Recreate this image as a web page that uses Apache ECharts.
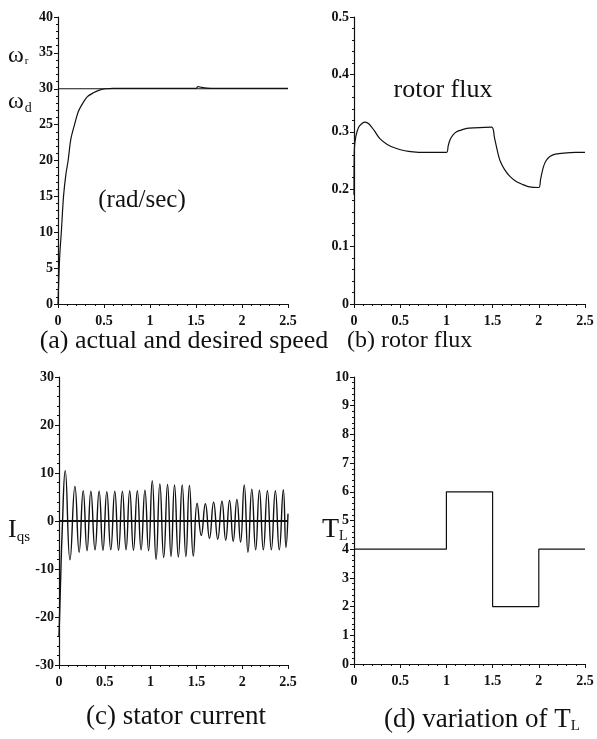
<!DOCTYPE html>
<html>
<head>
<meta charset="utf-8">
<script src="https://cdn.jsdelivr.net/npm/echarts@6/dist/echarts.min.js"></script>
<style>
  html, body { margin: 0; padding: 0; background: #fff; }
  #chart { width: 597px; height: 739px; }
</style>
</head>
<body>
<div id="chart"></div>
<script>
// (a) 实际转速与期望转速
const speedT = [0, 0.01, 0.02, 0.036, 0.06, 0.085, 0.11, 0.14, 0.18, 0.22, 0.27, 0.32, 0.38, 0.45, 0.52, 0.6, 1.0, 1.5, 1.52, 1.56, 1.62, 1.7, 2.5];
const speedW = [0, 4, 7, 10, 15, 18, 20, 23, 25, 26.8, 28, 28.9, 29.4, 29.8, 30, 30.05, 30.05, 30.05, 30.3, 30.2, 30.1, 30.05, 30.05];
const desiredT = [0, 2.5];
const desiredW = [30, 30];

// (b) 转子磁链
const fluxT = [0, 0.004, 0.02, 0.05, 0.09, 0.12, 0.16, 0.22, 0.28, 0.36, 0.46, 0.55, 0.64, 0.75, 1.0, 1.02, 1.04, 1.07, 1.11, 1.16, 1.22, 1.3, 1.49, 1.52, 1.55, 1.58, 1.63, 1.69, 1.76, 1.83, 1.9, 2.0, 2.02, 2.05, 2.08, 2.12, 2.18, 2.27, 2.4, 2.5];
const fluxV = [0.19, 0.27, 0.292, 0.308, 0.315, 0.317, 0.314, 0.302, 0.288, 0.278, 0.271, 0.267, 0.265, 0.264, 0.264, 0.276, 0.286, 0.294, 0.3, 0.303, 0.306, 0.307, 0.308, 0.29, 0.268, 0.25, 0.234, 0.222, 0.213, 0.208, 0.204, 0.203, 0.218, 0.239, 0.25, 0.257, 0.261, 0.263, 0.264, 0.264];

// (c) 定子电流 (峰值/谷值)
const currentT = [0, 0.015, 0.035, 0.068, 0.12, 0.174, 0.22, 0.264, 0.306, 0.348, 0.393, 0.438, 0.48, 0.522, 0.565, 0.609, 0.65, 0.692, 0.732, 0.772, 0.813, 0.855, 0.896, 0.938, 0.978, 1.018, 1.06, 1.101, 1.143, 1.185, 1.223, 1.261, 1.303, 1.345, 1.385, 1.424, 1.466, 1.508, 1.553, 1.598, 1.643, 1.688, 1.733, 1.779, 1.82, 1.862, 1.902, 1.942, 1.982, 2.022, 2.063, 2.105, 2.147, 2.188, 2.231, 2.275, 2.318, 2.362, 2.405, 2.449, 2.478, 2.5];
const currentI = [-24, -14, -2, 10.5, -8.1, 7.2, -6.5, 6.3, -6.2, 6.2, -6.0, 6.2, -6.1, 6.1, -6.0, 6.2, -6.1, 6.2, -6.0, 6.3, -6.1, 6.3, -6.0, 6.4, -6.2, 8.4, -8.0, 7.7, -7.6, 7.6, -7.4, 7.5, -7.5, 7.5, -7.4, 7.4, -7.3, 3.7, -3.0, 3.6, -3.6, 3.9, -3.8, 4.1, -4.0, 4.3, -4.2, 4.5, -4.4, 7.5, -6.5, 6.6, -6.0, 6.4, -6.0, 6.3, -6.0, 6.3, -6.0, 6.5, -5.5, 1.5];
const zeroT = [0, 2.5];
const zeroI = [0, 0];

// (d) 负载转矩 T_L
const loadT = [0, 1, 1.5, 2, 2.5];
const loadTL = [4, 6, 2, 4, 4];

const pairs = (xs, ys) => xs.map((x, i) => [x, ys[i]]);

const serif = 'Liberation Serif';
const ink = '#111';

// 四个子图的位置
const grids = [
  { left: 58, top: 17, width: 230, height: 287 },
  { left: 354, top: 17, width: 231, height: 287 },
  { left: 59, top: 377, width: 229, height: 288 },
  { left: 354, top: 377, width: 231, height: 287 }
];

function makeX(i) {
  return {
    type: 'value', gridIndex: i, min: 0, max: 2.5, interval: 0.5,
    axisLine: { onZero: false, lineStyle: { color: ink, width: 1.2 } },
    axisTick: { length: 4, lineStyle: { color: ink } },
    minorTick: { show: true, splitNumber: 5, length: 2, lineStyle: { color: ink } },
    splitLine: { show: false },
    axisLabel: { color: ink, fontFamily: serif, fontSize: 14, fontWeight: 'bold', margin: 10,
      formatter: v => String(Math.round(v * 10) / 10) }
  };
}

function makeY(i, min, max, interval) {
  return {
    type: 'value', gridIndex: i, min: min, max: max, interval: interval,
    axisLine: { show: true, onZero: false, lineStyle: { color: ink, width: 1.2 } },
    axisTick: { show: true, length: 4, lineStyle: { color: ink } },
    minorTick: { show: true, splitNumber: 5, length: 2, lineStyle: { color: ink } },
    splitLine: { show: false },
    axisLabel: { color: ink, fontFamily: serif, fontSize: 14, fontWeight: 'bold', margin: 5,
      formatter: v => String(Math.round(v * 10) / 10) }
  };
}

function lineSeries(i, data, extra) {
  return Object.assign({
    type: 'line', xAxisIndex: i, yAxisIndex: i, data: data,
    showSymbol: false, symbol: 'none', animation: false,
    lineStyle: { color: ink, width: 1.2 }
  }, extra || {});
}

function txt(x, y, text, size, align, rich) {
  return {
    type: 'text', x: x, y: y,
    style: {
      text: text, fill: ink, font: size + 'px "' + serif + '"',
      align: align || 'center', verticalAlign: 'middle', rich: rich
    }
  };
}

const chart = echarts.init(document.getElementById('chart'));

const option = {
  backgroundColor: '#fff',
  animation: false,
  grid: grids,
  xAxis: [makeX(0), makeX(1), makeX(2), makeX(3)],
  yAxis: [makeY(0, 0, 40, 5), makeY(1, 0, 0.5, 0.1), makeY(2, -30, 30, 10), makeY(3, 0, 10, 1)],
  series: [
    lineSeries(0, pairs(desiredT, desiredW)),
    lineSeries(0, pairs(speedT, speedW), { smooth: 0.3 }),
    lineSeries(1, pairs(fluxT, fluxV), { smooth: 0.3 }),
    lineSeries(2, pairs(zeroT, zeroI), { lineStyle: { color: ink, width: 2 } }),
    lineSeries(2, pairs(currentT, currentI), { smooth: 0.5, lineStyle: { color: ink, width: 1.4 } }),
    lineSeries(3, pairs(loadT, loadTL), { step: 'end' })
  ],
  graphic: [
    // 纵轴符号
    txt(8, 56, '{w|ω}{s|r}', 24, 'left', {
      w: { fontFamily: serif, fontSize: 24, fill: ink },
      s: { fontFamily: serif, fontSize: 11, fill: ink, padding: [10, 0, 0, 1] }
    }),
    txt(8, 102, '{w|ω}{s|d}', 24, 'left', {
      w: { fontFamily: serif, fontSize: 24, fill: ink },
      s: { fontFamily: serif, fontSize: 14, fill: ink, padding: [12, 0, 0, 1] }
    }),
    txt(8, 530, '{w|I}{s|qs}', 26, 'left', {
      w: { fontFamily: serif, fontSize: 26, fill: ink },
      s: { fontFamily: serif, fontSize: 15, fill: ink, padding: [14, 0, 0, 0] }
    }),
    txt(322, 530, '{w|T}{s|L}', 28, 'left', {
      w: { fontFamily: serif, fontSize: 28, fill: ink },
      s: { fontFamily: serif, fontSize: 14, fill: ink, padding: [12, 0, 0, 0] }
    }),
    // 图内文字
    txt(142, 200, '(rad/sec)', 25),
    txt(443, 90, 'rotor flux', 26),
    // 子图标题
    txt(184, 341, '(a) actual and desired speed', 26),
    txt(347, 341, '(b) rotor flux', 24, 'left'),
    txt(176, 717, '(c) stator current', 27),
    txt(384, 720, '{n|(d) variation of T}{s|L}', 27, 'left', {
      n: { fontFamily: serif, fontSize: 27, fill: ink },
      s: { fontFamily: serif, fontSize: 15, fill: ink, padding: [12, 0, 0, 0] }
    })
  ]
};

chart.setOption(option);
</script>
</body>
</html>
